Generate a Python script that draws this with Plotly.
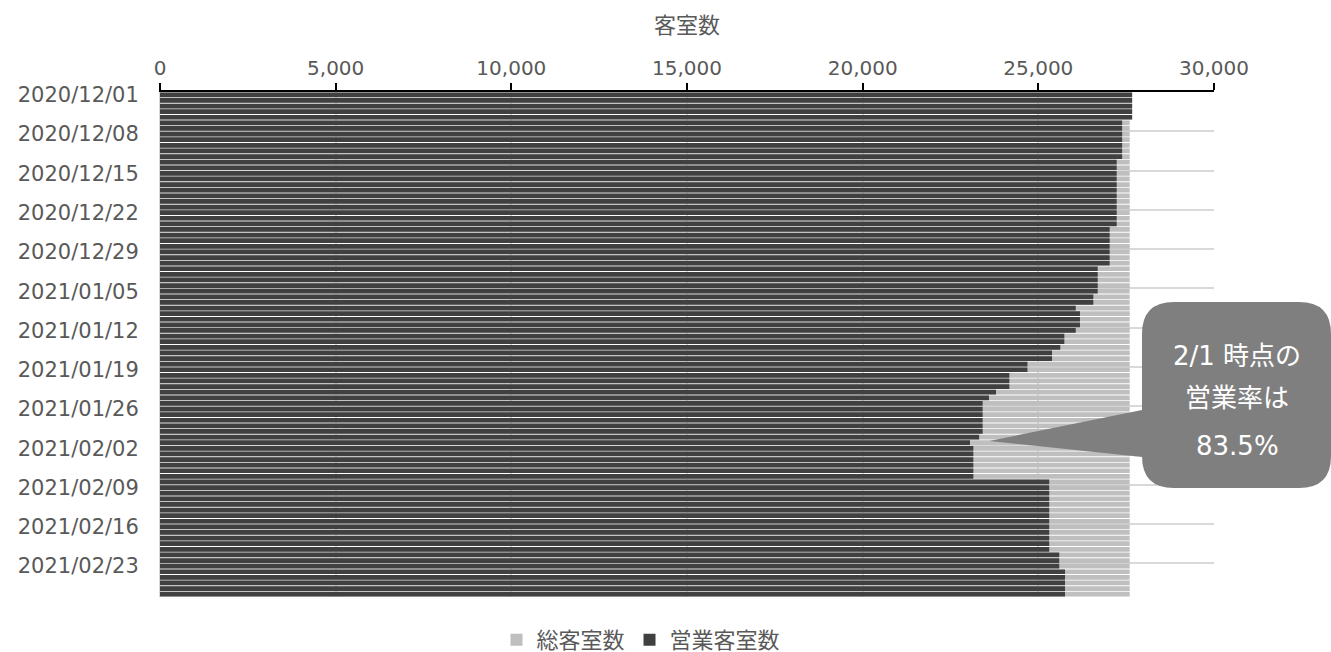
import pandas as pd
import plotly.graph_objects as go

# ---- data ----
dates = [d.strftime("%Y/%m/%d") for d in pd.date_range("2020-12-01", "2021-02-28")]

total_rooms = [27670, 27670, 27670, 27670, 27670] + [27600] * 85

operating_rooms = [
    27670, 27670, 27670, 27670, 27670,
    27385, 27385, 27385, 27385, 27385, 27385, 27385,
    27230, 27230, 27230, 27230, 27230, 27230, 27230, 27230, 27230, 27230, 27230, 27230,
    27030, 27030, 27030, 27030, 27030, 27030, 27030,
    26690, 26690, 26690, 26690, 26690,
    26565, 26565,
    26065,
    26185, 26185, 26185,
    26065,
    25740, 25740,
    25625,
    25390, 25390,
    24690, 24690,
    24175, 24175, 24175,
    23795,
    23595,
    23415, 23415, 23415, 23415, 23415, 23415,
    23315,
    23055,
    23150, 23150, 23150, 23150, 23150, 23150,
    25310, 25310, 25310, 25310, 25310, 25310, 25310, 25310, 25310, 25310, 25310, 25310, 25310,
    25595, 25595, 25595,
    25760, 25760, 25760, 25760, 25760,
]

x_ticks = [0, 5000, 10000, 15000, 20000, 25000, 30000]
label_step = 7
callout_date = "2021/02/01"

# ---- layout constants ----
W, H = 1331, 652
ML, MR, MT, MB = 160, 117, 92, 55
PW, PH = W - ML - MR, H - MT - MB
FONT = "DejaVu Sans, Noto Sans CJK JP, sans-serif"
TXT = "#595959"

idx = list(range(len(dates)))
y_range = [len(dates) - 0.5, -0.5]
x_range = [0, 30000]


def px_x(p):
    return (p - ML) / PW


def px_y(p):
    return (H - MB - p) / PH


def data_x(v):
    return (v - x_range[0]) / (x_range[1] - x_range[0])


def data_y(v):
    return (v - y_range[0]) / (y_range[1] - y_range[0])


fig = go.Figure()
fig.add_trace(go.Bar(
    y=idx, x=total_rooms, orientation="h", name="総客室数",
    marker=dict(color="#bfbfbf", line=dict(width=0)),
))
fig.add_trace(go.Bar(
    y=idx, x=operating_rooms, orientation="h", name="営業客室数",
    marker=dict(color="#404040", line=dict(width=0)),
))

# callout
ci = dates.index(callout_date)
rate = operating_rooms[ci] / total_rooms[ci] * 100
tipx = data_x(operating_rooms[ci] + 550)
tipy = data_y(ci - 0.3)
L, R, T, B, r = 1142, 1331, 302, 488, 32
pb1, pb2 = 410, 457
path = (
    f"M {px_x(L)},{px_y(T + r)} "
    f"Q {px_x(L)},{px_y(T)} {px_x(L + r)},{px_y(T)} "
    f"L {px_x(R - r)},{px_y(T)} "
    f"Q {px_x(R)},{px_y(T)} {px_x(R)},{px_y(T + r)} "
    f"L {px_x(R)},{px_y(B - r)} "
    f"Q {px_x(R)},{px_y(B)} {px_x(R - r)},{px_y(B)} "
    f"L {px_x(L + r)},{px_y(B)} "
    f"Q {px_x(L)},{px_y(B)} {px_x(L)},{px_y(B - r)} "
    f"L {px_x(L)},{px_y(pb2)} "
    f"L {tipx},{tipy} "
    f"L {px_x(L)},{px_y(pb1)} Z"
)
fig.add_shape(type="path", path=path, xref="paper", yref="paper",
              fillcolor="#7f7f7f", line=dict(width=0), layer="above")

lines = ["2/1 時点の", "営業率は", f"{rate:.1f}%"]
line_y = [356, 398, 446]
for t, yy in zip(lines, line_y):
    fig.add_annotation(text=t, xref="paper", yref="paper", x=px_x(1237), y=px_y(yy),
                       showarrow=False, xanchor="center", yanchor="middle",
                       font=dict(family=FONT, size=26, color="white"))

fig.update_layout(
    width=W, height=H,
    margin=dict(l=ML, r=MR, t=MT, b=MB, autoexpand=False),
    paper_bgcolor="white", plot_bgcolor="white",
    barmode="overlay", bargap=0.16,
    font=dict(family=FONT, size=20, color=TXT),
    showlegend=True,
    legend=dict(orientation="h", x=px_x(641), xanchor="center", y=px_y(640), yanchor="middle",
                font=dict(family=FONT, size=22, color=TXT), traceorder="normal",
                itemwidth=30),
    xaxis=dict(
        side="top", range=x_range, tickvals=x_ticks, tickformat=",",
        ticks="outside", ticklen=7, tickwidth=1.5, tickcolor="black",
        showline=True, linecolor="black", linewidth=2,
        showgrid=True, gridcolor="#d9d9d9", gridwidth=1.5, zeroline=False,
        title=dict(text="客室数", font=dict(family=FONT, size=22, color=TXT), standoff=16),
        tickfont=dict(family=FONT, size=20, color=TXT),
    ),
    yaxis=dict(
        range=y_range, tickvals=idx[::label_step], ticktext=dates[::label_step],
        ticks="outside", ticklen=16, tickcolor="rgba(0,0,0,0)",
        showgrid=False, zeroline=False,
        showline=True, linecolor="#d9d9d9", linewidth=1,
        minor=dict(tickvals=[i - 0.5 for i in idx[label_step::label_step]],
                   showgrid=True, gridcolor="#d9d9d9", gridwidth=1.5, ticks=""),
        tickfont=dict(family=FONT, size=21, color=TXT),
    ),
)

fig.write_html("out.html", config={"displayModeBar": False},
               post_script="document.body.style.margin='0';")
